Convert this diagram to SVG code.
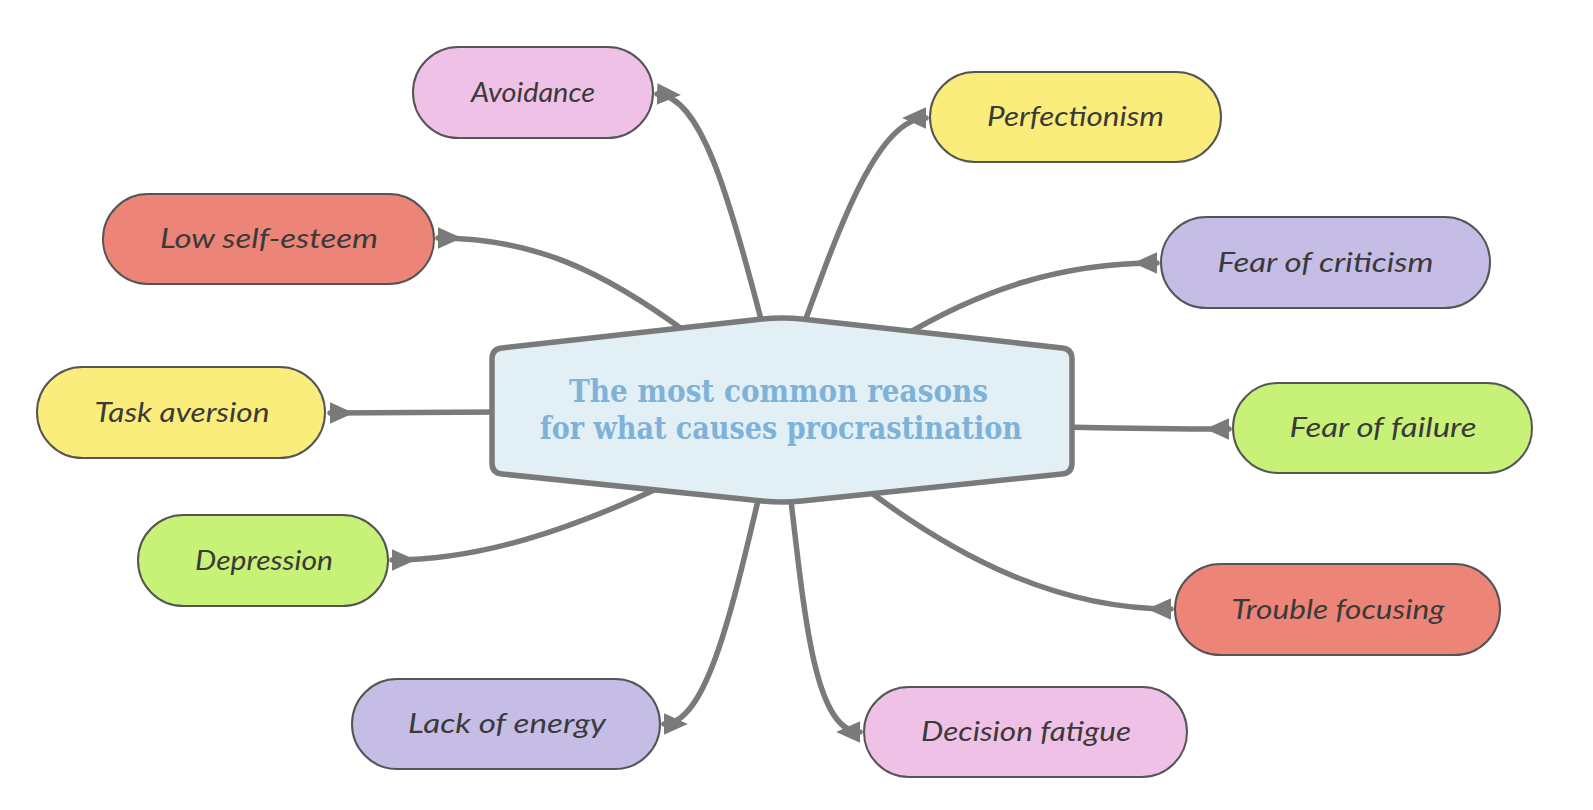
<svg xmlns="http://www.w3.org/2000/svg" width="1593" height="810" viewBox="0 0 1593 810">
<style>
  .conn { fill: none; stroke: #7a7a7a; stroke-width: 5.5; stroke-linecap: round; marker-start: url(#arr); }
  .node rect { stroke: #555; stroke-width: 2; }
  .node text { font-family: "Lato", "Open Sans", "Liberation Sans", sans-serif; font-style: italic; font-size: 27px; fill: #3a3a3a; text-anchor: middle; }
  .pink { fill: #f0c1e6; }
  .yellow { fill: #fbed7c; }
  .salmon { fill: #ec8577; }
  .lav { fill: #c5bde6; }
  .green { fill: #c7f177; }
  .center path { fill: #e2eff5; stroke: #7a7a7a; stroke-width: 5.5; stroke-linejoin: round; }
  .center text { font-family: "DejaVu Serif", "Liberation Serif", serif; font-weight: bold; font-size: 32px; fill: #7fb2d9; text-anchor: middle; }
</style>
<defs>
  <marker id="arr" markerUnits="userSpaceOnUse" markerWidth="26" markerHeight="26" viewBox="0 -12 24 24" refX="0" refY="0" orient="auto">
    <path d="M0,-10 L22,0 L0,10 Z" fill="#7a7a7a"/>
  </marker>
</defs>
<rect width="1593" height="810" fill="#ffffff"/>
<g id="connectors">
  <path class="conn" d="M657,94 C700,96 728,190 765,335"/>
  <path class="conn" d="M926,118 C878,118 840,225 800,335"/>
  <path class="conn" d="M438,238 C530,238 600,268 690,335"/>
  <path class="conn" d="M1157,263 C1060,263 980,290 900,338"/>
  <path class="conn" d="M330,413 C400,413 450,412 500,412"/>
  <path class="conn" d="M1229,429 C1150,429 1110,428 1065,427"/>
  <path class="conn" d="M392,560 C480,560 570,530 665,485"/>
  <path class="conn" d="M1171,609 C1060,609 960,560 865,488"/>
  <path class="conn" d="M664,724 C705,724 730,620 760,492"/>
  <path class="conn" d="M860,732 C815,732 805,620 790,492"/>
</g>
<g id="center" class="center">
  <path d="M492,359 Q492,349 501.9,348 L762.1,319.1 Q782,317 801.9,319.1 L1062.1,348 Q1072,349 1072,359 L1072,463 Q1072,473 1062,474 L801.9,501.1 Q782,503 762.1,501.1 L502,474 Q492,473 492,463 Z"/>
  <text x="778.5" y="402" textLength="419" lengthAdjust="spacingAndGlyphs">The most common reasons</text>
  <text x="781" y="439" textLength="482" lengthAdjust="spacingAndGlyphs">for what causes procrastination</text>
</g>
<g id="avoidance" class="node">
  <rect class="pink" x="413" y="47" width="240" height="91" rx="45.5"/>
  <text x="533" y="102" textLength="124" lengthAdjust="spacingAndGlyphs">Avoidance</text>
</g>
<g id="perfectionism" class="node">
  <rect class="yellow" x="930" y="72" width="291" height="90" rx="45"/>
  <text x="1075.5" y="126" textLength="177" lengthAdjust="spacingAndGlyphs">Perfectionism</text>
</g>
<g id="low-self-esteem" class="node">
  <rect class="salmon" x="103" y="194" width="331" height="90" rx="45"/>
  <text x="269" y="248" textLength="218" lengthAdjust="spacingAndGlyphs">Low self-esteem</text>
</g>
<g id="fear-of-criticism" class="node">
  <rect class="lav" x="1161" y="217" width="329" height="91" rx="45.5"/>
  <text x="1325.5" y="272" textLength="216" lengthAdjust="spacingAndGlyphs">Fear of criticism</text>
</g>
<g id="task-aversion" class="node">
  <rect class="yellow" x="37" y="367" width="288" height="91" rx="45.5"/>
  <text x="182" y="422" textLength="175" lengthAdjust="spacingAndGlyphs">Task aversion</text>
</g>
<g id="fear-of-failure" class="node">
  <rect class="green" x="1233" y="383" width="299" height="90" rx="45"/>
  <text x="1383" y="437" textLength="187" lengthAdjust="spacingAndGlyphs">Fear of failure</text>
</g>
<g id="depression" class="node">
  <rect class="green" x="138" y="515" width="250" height="91" rx="45.5"/>
  <text x="264" y="570" textLength="138" lengthAdjust="spacingAndGlyphs">Depression</text>
</g>
<g id="trouble-focusing" class="node">
  <rect class="salmon" x="1175" y="564" width="325" height="91" rx="45.5"/>
  <text x="1338" y="619" textLength="213" lengthAdjust="spacingAndGlyphs">Trouble focusing</text>
</g>
<g id="lack-of-energy" class="node">
  <rect class="lav" x="352" y="679" width="308" height="90" rx="45"/>
  <text x="507" y="733" textLength="198" lengthAdjust="spacingAndGlyphs">Lack of energy</text>
</g>
<g id="decision-fatigue" class="node">
  <rect class="pink" x="864" y="687" width="323" height="90" rx="45"/>
  <text x="1026" y="741" textLength="210" lengthAdjust="spacingAndGlyphs">Decision fatigue</text>
</g>
</svg>
